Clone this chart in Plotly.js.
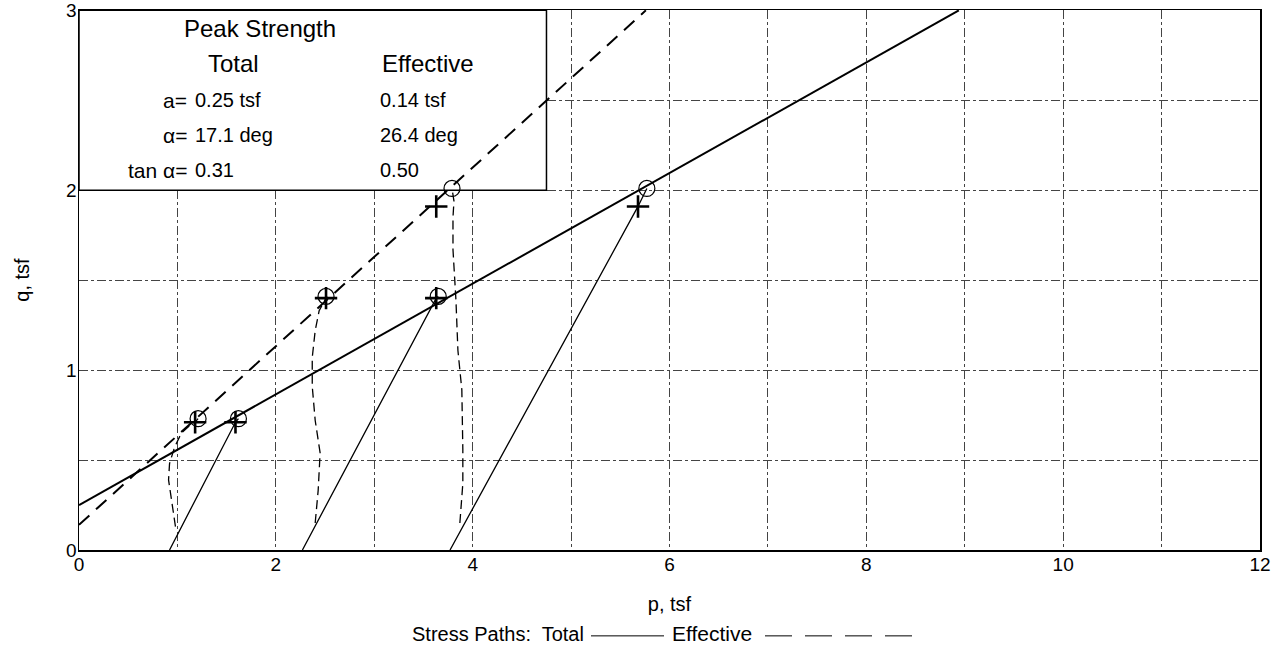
<!DOCTYPE html>
<html>
<head>
<meta charset="utf-8">
<script src="https://cdn.plot.ly/plotly-3.0.1.min.js"></script>
<style>html,body{margin:0;padding:0;background:#fff;}#chart{width:1271px;height:656px;}</style>
</head>
<body>
<div id="chart"></div>
<script>
// Failure envelopes (p, q in tsf)
const totalEnvP = [0, 8.94];
const totalEnvQ = [0.25, 3.0];
const effEnvP = [0, 5.76];
const effEnvQ = [0.14, 3.0];

// Total stress paths (specimens 1-3)
const tot1P = [0.92, 1.59, 1.62];
const tot1Q = [0.0, 0.71, 0.73];
const tot2P = [2.27, 3.63, 3.65];
const tot2Q = [0.0, 1.40, 1.41];
const tot3P = [3.77, 5.68, 5.77];
const tot3Q = [0.0, 1.91, 2.01];

// Effective stress paths (specimens 1-3)
const eff1P = [0.98, 0.95, 0.91, 0.92, 0.97, 1.04, 1.12, 1.18, 1.21];
const eff1Q = [0.13, 0.25, 0.39, 0.48, 0.57, 0.65, 0.69, 0.71, 0.73];
const eff2P = [2.40, 2.43, 2.45, 2.40, 2.37, 2.37, 2.40, 2.44, 2.51, 2.52];
const eff2Q = [0.15, 0.33, 0.54, 0.72, 0.91, 1.07, 1.22, 1.33, 1.40, 1.41];
const eff3P = [3.87, 3.90, 3.90, 3.89, 3.85, 3.83, 3.80, 3.80, 3.81, 3.79];
const eff3Q = [0.15, 0.37, 0.56, 0.89, 1.11, 1.39, 1.67, 1.85, 1.94, 2.01];

// Peak points (circles) and other failure points (plus)
const peakTotP = [1.62, 3.65, 5.77];
const peakTotQ = [0.73, 1.41, 2.01];
const peakEffP = [1.21, 2.51, 3.79];
const peakEffQ = [0.73, 1.41, 2.01];
const plusTotP = [1.59, 3.63, 5.68];
const plusTotQ = [0.71, 1.40, 1.91];
const plusEffP = [1.18, 2.51, 3.63];
const plusEffQ = [0.71, 1.40, 1.91];

// Strength table
const tableTitle = 'Peak Strength';
const colHeaders = ['Total', 'Effective'];
const rowLabels = ['a=', '\u03b1=', 'tan \u03b1='];
const totalVals = ['0.25 tsf', '17.1 deg', '0.31'];
const effVals = ['0.14 tsf', '26.4 deg', '0.50'];

const xTicks = [0, 2, 4, 6, 8, 10, 12];
const yTicks = [0, 1, 2, 3];

const FONT = 'Arial, "Liberation Sans", sans-serif';
const traces = [];
function line(x, y, width, dash) {
  traces.push({x: x, y: y, type: 'scatter', mode: 'lines', showlegend: false, hoverinfo: 'skip',
    line: {color: '#000', width: width, dash: dash}});
}
line(totalEnvP, totalEnvQ, 2, 'solid');
line(effEnvP, effEnvQ, 2, '14px,9px');
line(tot1P, tot1Q, 1.3, 'solid');
line(tot2P, tot2Q, 1.3, 'solid');
line(tot3P, tot3Q, 1.3, 'solid');
line(eff1P, eff1Q, 1.3, '9px,5px');
line(eff2P, eff2Q, 1.3, '9px,5px');
line(eff3P, eff3Q, 1.3, '9px,5px');
function marks(x, y, symbol, size, w) {
  traces.push({x: x, y: y, type: 'scatter', mode: 'markers', showlegend: false, hoverinfo: 'skip',
    marker: {symbol: symbol, size: size, color: '#000', line: {color: '#000', width: w}}});
}
marks(peakTotP, peakTotQ, 'circle-open', 16, 1.2);
marks(peakEffP, peakEffQ, 'circle-open', 16, 1.2);
marks(plusTotP, plusTotQ, 'cross-thin-open', 16, 2.6);
marks(plusEffP, plusEffQ, 'cross-thin-open', 16, 2.6);

const ann = [];
const hdr = 24, row = 20;
function txt(t, x, y, anchor, size, xref, yref) {
  ann.push({text: t, x: x, y: y, xref: xref || 'x', yref: yref || 'y', showarrow: false, xanchor: anchor, yanchor: 'middle',
    font: {family: FONT, size: size, color: '#000'}});
}
txt(tableTitle, 1.84, 2.90, 'center', hdr);
txt(colHeaders[0], 1.57, 2.705, 'center', hdr);
txt(colHeaders[1], 3.55, 2.705, 'center', hdr);
const rowQ = [2.50, 2.305, 2.11];
for (let i = 0; i < rowLabels.length; i++) {
  txt(rowLabels[i], 1.115, rowQ[i], 'right', 21);
  txt(totalVals[i], 1.16, rowQ[i], 'left', row);
  txt(effVals[i], 3.04, rowQ[i], 'left', row);
}
// bottom key for stress path line styles
const keyY = -0.155;
function px2paper(px) { return (px - 79) / 1181; }
txt('Stress Paths:  Total', px2paper(586), keyY, 'right', 20, 'paper', 'paper');
txt('Effective', px2paper(670), keyY, 'left', 21, 'paper', 'paper');

const gridStyle = {gridcolor: '#444', griddash: 'dashdot', gridwidth: 1};
const layout = {
  width: 1271, height: 656,
  margin: {l: 79, r: 11, t: 10, b: 106},
  paper_bgcolor: '#fff', plot_bgcolor: '#fff',
  font: {family: FONT, color: '#000'},
  showlegend: false,
  xaxis: Object.assign({
    range: [0, 12], tickvals: xTicks, ticktext: xTicks.map(String), ticks: '', showline: true, mirror: true,
    linecolor: '#000', linewidth: 1.5, zeroline: false, showgrid: true,
    tickfont: {family: FONT, size: 19, color: '#000'}, ticklabelstandoff: -3,
    title: {text: 'p, tsf', font: {family: FONT, size: 20, color: '#000'}, standoff: 22},
    minor: {dtick: 1, tick0: 0, showgrid: true, gridcolor: '#444', griddash: 'dashdot', gridwidth: 1, ticks: ''}
  }, gridStyle),
  yaxis: Object.assign({
    range: [0, 3.002], tickvals: yTicks, ticktext: yTicks.map(String), ticks: '', showline: true, mirror: true,
    linecolor: '#000', linewidth: 1.5, zeroline: false, showgrid: true,
    tickfont: {family: FONT, size: 19, color: '#000'}, ticklabelstandoff: -3,
    title: {text: 'q, tsf', font: {family: FONT, size: 20, color: '#000'}, standoff: 31},
    minor: {dtick: 0.5, tick0: 0, showgrid: true, gridcolor: '#444', griddash: 'dashdot', gridwidth: 1, ticks: ''}
  }, gridStyle),
  shapes: [
    {type: 'rect', xref: 'x', yref: 'y', x0: 0, x1: 4.75, y0: 2.0, y1: 3.0,
      fillcolor: '#fff', line: {color: '#000', width: 1.5}, layer: 'between'},
    {type: 'line', xref: 'paper', yref: 'paper', x0: px2paper(591), x1: px2paper(664), y0: keyY - 0.004, y1: keyY - 0.004,
      line: {color: '#000', width: 1}},
    {type: 'line', xref: 'paper', yref: 'paper', x0: px2paper(765), x1: px2paper(912), y0: keyY - 0.004, y1: keyY - 0.004,
      line: {color: '#000', width: 1, dash: '27px,13px'}}
  ],
  annotations: ann
};
Plotly.newPlot('chart', traces, layout, {staticPlot: true, displayModeBar: false});
</script>
</body>
</html>
